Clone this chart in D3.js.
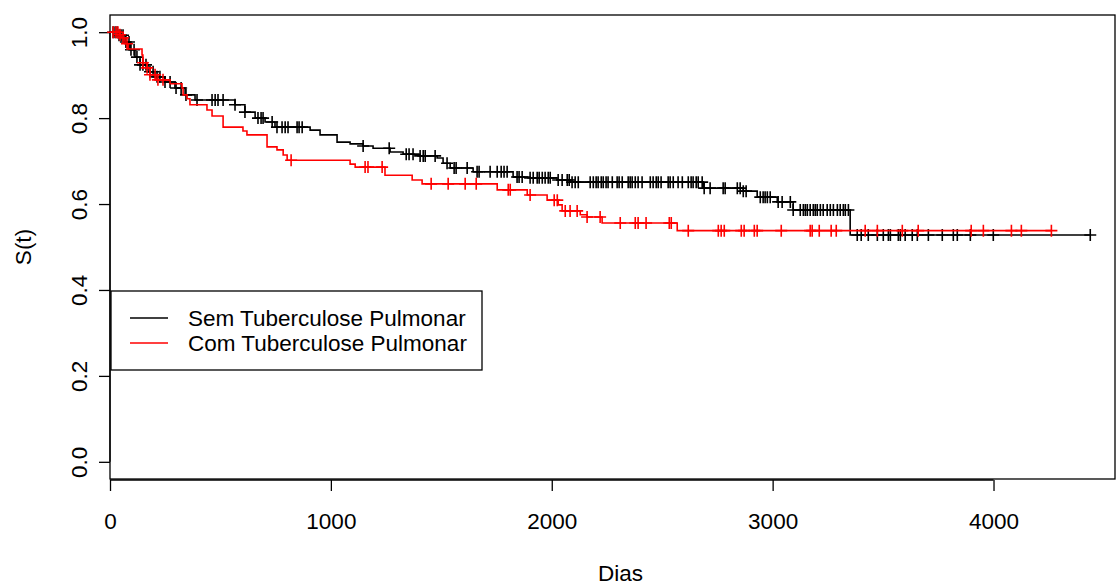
<!DOCTYPE html>
<html>
<head>
<meta charset="utf-8">
<script src="https://cdn.jsdelivr.net/npm/d3@7"></script>
<style>
  html, body { margin: 0; padding: 0; background: #fff; }
  svg { display: block; font-family: "Liberation Sans", Arial, sans-serif; }
</style>
</head>
<body>
<div id="chart"></div>
<script>
// ── Data ──────────────────────────────────────────
// Kaplan-Meier steps: time (dias) where survival changes, and the new S(t)
const semTimes = [0, 36, 68, 91, 113, 136, 172, 204, 249, 294, 340, 385, 566, 611, 657, 702, 747, 906, 951,
  1028, 1087, 1146, 1191, 1268, 1327, 1404, 1481, 1508, 1540, 1644, 1825, 1902, 2024, 2083, 2686, 2867,
  2930, 3021, 3093, 3351];
const semSurv = [1.0, 0.993, 0.977, 0.959, 0.942, 0.924, 0.908, 0.896, 0.884, 0.870, 0.854, 0.842, 0.831,
  0.814, 0.800, 0.791, 0.779, 0.772, 0.761, 0.744, 0.740, 0.735, 0.730, 0.721, 0.716, 0.712, 0.707, 0.695,
  0.684, 0.675, 0.663, 0.661, 0.656, 0.651, 0.637, 0.630, 0.616, 0.605, 0.586, 0.528];
const semCensor = [14, 23, 32, 41, 50, 59, 72, 86, 95, 109, 122, 136, 149, 163, 181, 195, 213, 226, 249, 272,
  299, 322, 344, 394, 462, 476, 489, 512, 566, 611, 670, 684, 693, 734, 756, 779, 793, 806, 847, 856, 870,
  1146, 1264, 1341, 1354, 1372, 1404, 1418, 1427, 1472, 1526, 1558, 1567, 1617, 1662, 1671, 1721, 1753,
  1771, 1784, 1798, 1843, 1852, 1866, 1902, 1916, 1934, 1943, 1957, 1970, 1984, 1993, 2029, 2047, 2070,
  2079, 2092, 2106, 2120, 2174, 2188, 2201, 2210, 2224, 2233, 2246, 2255, 2274, 2296, 2305, 2319, 2346,
  2355, 2364, 2378, 2391, 2409, 2446, 2459, 2473, 2482, 2495, 2527, 2536, 2550, 2572, 2591, 2618, 2631,
  2640, 2654, 2663, 2681, 2690, 2717, 2776, 2785, 2840, 2853, 2867, 2880, 2944, 2957, 2966, 2976, 2989,
  3025, 3043, 3080, 3093, 3125, 3139, 3148, 3157, 3170, 3184, 3193, 3202, 3216, 3229, 3247, 3261, 3275,
  3293, 3306, 3320, 3329, 3343, 3383, 3401, 3433, 3474, 3501, 3524, 3533, 3569, 3578, 3600, 3632, 3655,
  3705, 3768, 3818, 3836, 3895, 3999, 4438];

const comTimes = [0, 45, 50, 68, 82, 145, 149, 168, 181, 208, 272, 326, 331, 349, 362, 439, 462, 512, 602,
  620, 711, 756, 784, 802, 1087, 1110, 1245, 1368, 1413, 1753, 1889, 1979, 2029, 2047, 2129, 2160, 2228, 2568];
const comSurv = [1.0, 0.994, 0.987, 0.973, 0.961, 0.947, 0.929, 0.917, 0.901, 0.889, 0.880, 0.870, 0.854,
  0.845, 0.831, 0.819, 0.805, 0.779, 0.770, 0.761, 0.733, 0.726, 0.714, 0.702, 0.693, 0.686, 0.667, 0.656,
  0.647, 0.633, 0.621, 0.609, 0.598, 0.584, 0.575, 0.570, 0.556, 0.538];
const comCensor = [14, 27, 36, 45, 59, 77, 149, 168, 181, 204, 217, 240, 820, 1155, 1168, 1232, 1454, 1531,
  1608, 1658, 1803, 1812, 1902, 2011, 2025, 2061, 2083, 2115, 2160, 2219, 2310, 2378, 2391, 2427, 2532,
  2541, 2618, 2754, 2767, 2781, 2858, 2871, 2917, 2930, 3039, 3170, 3179, 3211, 3265, 3288, 3419, 3474,
  3587, 3659, 3899, 3954, 4081, 4126, 4262];

const xTicks = [0, 1000, 2000, 3000, 4000];
const yTicks = [0.0, 0.2, 0.4, 0.6, 0.8, 1.0];
const legendLabels = ["Sem Tuberculose Pulmonar", "Com Tuberculose Pulmonar"];
const seriesColors = ["#000000", "#ff0000"];

// ── Layout ───────────────────────────────────────
const width = 1117, height = 587;
const PLOT = { left: 110, right: 1115, top: 15, bottom: 479 };
const FONT = 22.5;
const TICK = 11;
const MARK = 6;

const svg = d3.select("#chart").append("svg")
  .attr("width", width).attr("height", height);

const x = d3.scaleLinear().domain([0, 4550]).range([PLOT.left, PLOT.right]);
const y = d3.scaleLinear().domain([-0.04, 1.04]).range([PLOT.bottom, PLOT.top]);

// ── Axes (R style) ───────────────────────────────
const xAxis = svg.append("g").attr("transform", `translate(0,${PLOT.bottom + 1})`)
  .call(d3.axisBottom(x).tickValues(xTicks).tickSize(TICK).tickPadding(22).tickSizeOuter(0)
    .tickFormat(d3.format("d")));
xAxis.select(".domain").attr("d", `M${x(0)},0H${x(4000)}`).attr("stroke", "#000").attr("stroke-width", 1.3);
xAxis.selectAll(".tick line").attr("stroke", "#000").attr("stroke-width", 1.3);
xAxis.selectAll(".tick text").attr("font-size", FONT).attr("fill", "#000")
  .attr("font-family", "Liberation Sans, Arial, sans-serif");

const yAxis = svg.append("g").attr("transform", `translate(${PLOT.left},0)`)
  .call(d3.axisLeft(y).tickValues(yTicks).tickSize(TICK).tickSizeOuter(0).tickFormat(d3.format(".1f")));
yAxis.select(".domain").attr("d", `M0,${y(0)}V${y(1)}`).attr("stroke", "#000").attr("stroke-width", 1.3);
yAxis.selectAll(".tick line").attr("stroke", "#000").attr("stroke-width", 1.3);
yAxis.selectAll(".tick text")
  .attr("font-size", FONT).attr("fill", "#000")
  .attr("font-family", "Liberation Sans, Arial, sans-serif")
  .attr("x", null).attr("dy", null)
  .attr("text-anchor", "middle")
  .attr("transform", "translate(-23,0) rotate(-90)");

// Plot box
svg.append("rect")
  .attr("x", PLOT.left).attr("y", PLOT.top)
  .attr("width", PLOT.right - PLOT.left).attr("height", PLOT.bottom - PLOT.top)
  .attr("fill", "none").attr("stroke", "#000").attr("stroke-width", 1.3);

// Axis titles
svg.append("text")
  .attr("x", (PLOT.left + PLOT.right) / 2 + 8).attr("y", 581)
  .attr("text-anchor", "middle").attr("font-size", FONT).text("Dias");

svg.append("text")
  .attr("transform", `translate(31,${(PLOT.top + PLOT.bottom) / 2}) rotate(-90)`)
  .attr("text-anchor", "middle").attr("font-size", FONT).text("S(t)");

// ── Curves ───────────────────────────────────────
const line = d3.line().x(d => x(d[0])).y(d => y(d[1])).curve(d3.curveStepAfter);
const bis = d3.bisector(d => d).right;

function drawCurve(times, surv, censor, color) {
  const pts = times.map((t, i) => [t, surv[i]]);
  const lastT = Math.max(times[times.length - 1], censor[censor.length - 1]);
  pts.push([lastT, surv[surv.length - 1]]);
  const g = svg.append("g");
  g.append("path").attr("d", line(pts))
    .attr("fill", "none").attr("stroke", color).attr("stroke-width", 1.6);
  const level = t => surv[Math.max(0, bis(times, t) - 1)];
  g.selectAll("path.mark").data(censor).join("path")
    .attr("class", "mark")
    .attr("d", t => {
      const cx = x(t), cy = y(level(t));
      return `M${cx - MARK},${cy}H${cx + MARK}M${cx},${cy - MARK}V${cy + MARK}`;
    })
    .attr("fill", "none").attr("stroke", color).attr("stroke-width", 1.6);
}

drawCurve(semTimes, semSurv, semCensor, seriesColors[0]);
drawCurve(comTimes, comSurv, comCensor, seriesColors[1]);

// ── Legend ───────────────────────────────────────
const leg = svg.append("g");
leg.append("rect").attr("x", 111).attr("y", 291).attr("width", 371).attr("height", 79)
  .attr("fill", "#fff").attr("stroke", "#000").attr("stroke-width", 1.3);
legendLabels.forEach((lab, i) => {
  const ly = 318 + i * 25;
  leg.append("line").attr("x1", 130).attr("x2", 168).attr("y1", ly).attr("y2", ly)
    .attr("stroke", seriesColors[i]).attr("stroke-width", 1.6);
  leg.append("text").attr("x", 188).attr("y", ly + 8).attr("font-size", FONT).text(lab);
});
</script>
</body>
</html>
